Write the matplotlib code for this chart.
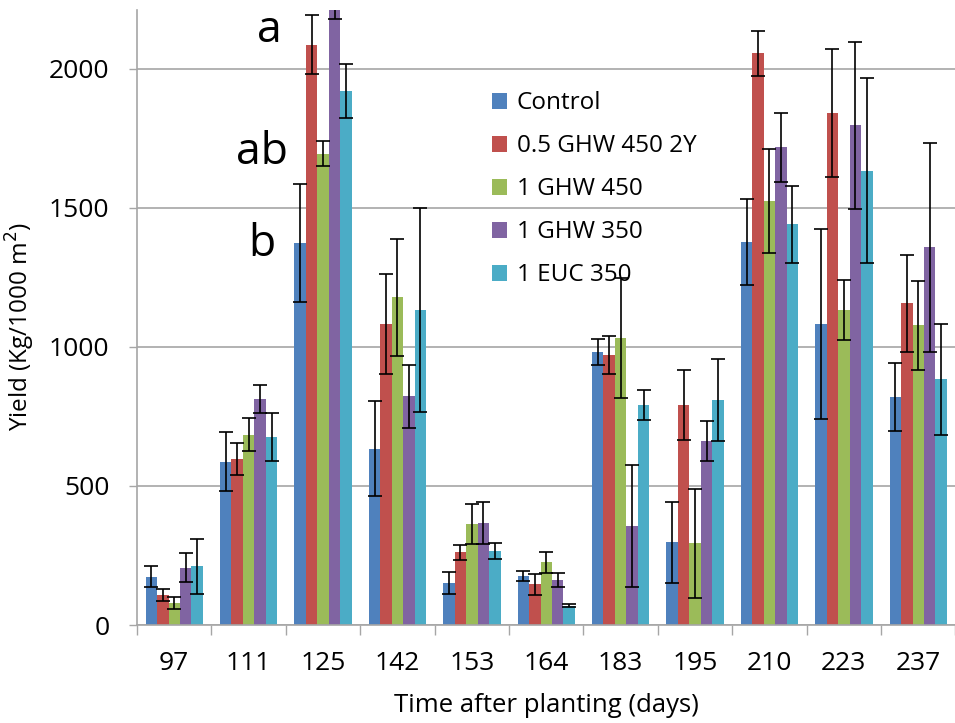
import numpy as np
import matplotlib
matplotlib.use("Agg")
import matplotlib.pyplot as plt
from matplotlib.ticker import FixedLocator

plt.rcParams['font.family'] = ['Open Sans', 'DejaVu Sans']

days = ['97', '111', '125', '142', '153', '164', '183', '195', '210', '223', '237']
series = ['Control', '0.5 GHW 450 2Y', '1 GHW 450', '1 GHW 350', '1 EUC 350']
colors = ['#4F81BD', '#C0504D', '#9BBB59', '#8064A2', '#4BACC6']

control     = [174, 587, 1373, 634, 151, 177, 981, 297, 1377, 1082, 819]
ghw450_2y   = [108, 597, 2087, 1082, 261, 146, 971, 791, 2055, 1842, 1156]
ghw450      = [80, 684, 1695, 1179, 363, 225, 1032, 294, 1524, 1133, 1078]
ghw350      = [206, 814, 2245, 823, 367, 161, 357, 662, 1718, 1796, 1358]
euc350      = [211, 676, 1921, 1132, 266, 70, 791, 809, 1441, 1634, 884]

control_err   = [39, 106, 211, 170, 39, 17, 46, 145, 154, 343, 122]
ghw450_2y_err = [23, 57, 106, 181, 28, 39, 68, 125, 81, 230, 175]
ghw450_err    = [21, 60, 45, 210, 72, 37, 217, 196, 187, 108, 160]
ghw350_err    = [53, 50, 68, 113, 76, 25, 220, 71, 124, 300, 376]
euc350_err    = [100, 85, 97, 367, 30, 6, 53, 146, 138, 331, 200]

values = [control, ghw450_2y, ghw450, ghw350, euc350]
errors = [control_err, ghw450_2y_err, ghw450_err, ghw350_err, euc350_err]

letters = ['a', 'ab', 'b']
letter_pos = [(1.285, 2135), (1.18, 1698), (1.18, 1367)]

fig = plt.figure(figsize=(9.55, 7.23), dpi=100)
ax = fig.add_axes([0.1435, 0.1355, 0.857, 0.851])

x = np.arange(len(days))
w = 0.154
grid_c = '#a6a6a6'
ax.set_axisbelow(True)
ax.yaxis.grid(True, color=grid_c, linewidth=1.2)

handles = []
for i, (vals, errs, c, name) in enumerate(zip(values, errors, colors, series)):
    pos = x + (i - 2) * w
    b = ax.bar(pos, vals, width=w, color=c, label=name, zorder=2)
    handles.append(b)
    ax.errorbar(pos, vals, yerr=errs, fmt='none', ecolor='black',
                elinewidth=1.2, capsize=5, capthick=1.2, zorder=3)

ax.set_xlim(-0.5, len(days) - 0.5)
ax.set_ylim(0, 2212)
ax.set_yticks([0, 500, 1000, 1500, 2000])
ax.set_xticks(x)
ax.set_xticklabels(days)
ax.xaxis.set_minor_locator(FixedLocator(np.arange(-0.5, len(days), 1.0)))
ax.tick_params(axis='x', which='major', length=0, pad=19, labelsize=19)
ax.tick_params(axis='x', which='minor', length=7, width=1.0, color=grid_c, direction='out')
ax.tick_params(axis='y', which='major', length=6, width=1.0, color=grid_c, labelsize=19, pad=14)

for s in ['top', 'right']:
    ax.spines[s].set_visible(False)
for s in ['left', 'bottom']:
    ax.spines[s].set_color(grid_c)
    ax.spines[s].set_linewidth(1.2)

ax.set_xlabel('Time after planting (days)', fontsize=18.5, labelpad=12)
ax.set_ylabel('Yield (Kg/1000 m$^2$)', fontsize=17.5)
ax.yaxis.set_label_coords(-0.122, 0.485)

for t, (lx, ly) in zip(letters, letter_pos):
    ax.text(lx, ly, t, fontsize=32, ha='center', va='center', zorder=4)

leg = fig.legend(handles=handles, labels=series, loc='upper left',
                 bbox_to_anchor=(0.505, 0.887), frameon=False, fontsize=17.5,
                 handlelength=0.62, handleheight=0.62, handletextpad=0.4,
                 labelspacing=0.78, borderaxespad=0)

fig.savefig('out.png', dpi=100)
